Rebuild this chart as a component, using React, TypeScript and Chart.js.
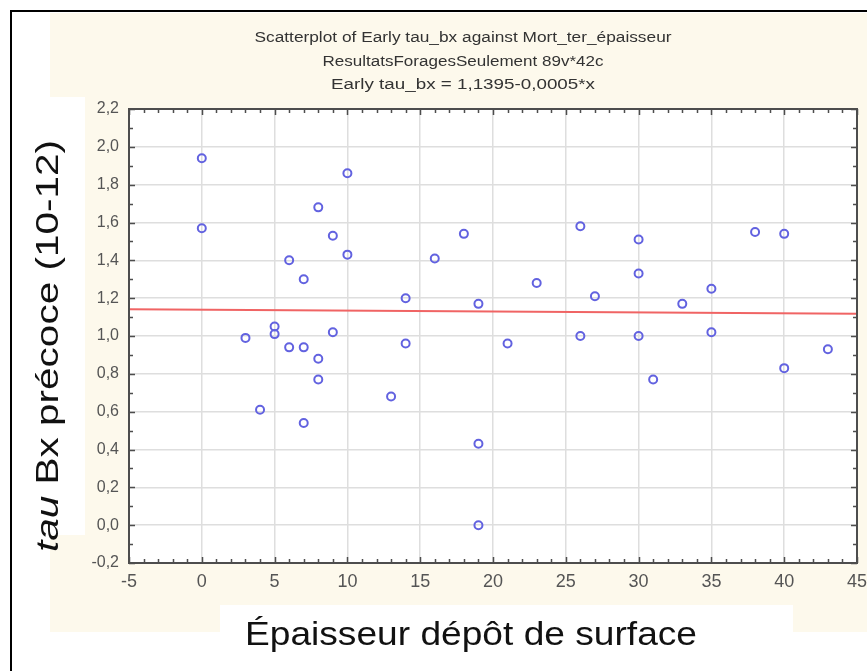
import React, { useEffect, useRef } from 'react';
import { Chart, registerables } from 'chart.js';

Chart.register(...registerables);

// ---- data ----
const titleLines = [
  'Scatterplot of Early tau_bx against Mort_ter_épaisseur',
  'ResultatsForagesSeulement 89v*42c',
  'Early tau_bx = 1,1395-0,0005*x',
];
const xAxisTitle = 'Épaisseur dépôt de surface';
const yAxisTitleItalic = 'tau';
const yAxisTitleRest = ' Bx précoce (10-12)';

const pointX = [0, 0, 3, 4, 5, 5, 6, 6, 7, 7, 7, 8, 8, 8, 9, 9, 10, 10, 13, 14, 14, 16, 18, 19, 19, 19, 21, 23, 26, 26, 27, 30, 30, 30, 31, 33, 35, 35, 38, 40, 40, 43];
const pointY = [1.94, 1.57, 0.99, 0.61, 1.05, 1.01, 1.40, 0.94, 1.30, 0.94, 0.54, 1.68, 0.88, 0.77, 1.53, 1.02, 1.86, 1.43, 0.68, 1.20, 0.96, 1.41, 1.54, 1.17, 0.43, 0.00, 0.96, 1.28, 1.58, 1.00, 1.21, 1.51, 1.33, 1.00, 0.77, 1.17, 1.25, 1.02, 1.55, 1.54, 0.83, 0.93];

const fitX = [-5, 45];
const fitY = [1.142, 1.117];

const xTicks = [-5, 0, 5, 10, 15, 20, 25, 30, 35, 40, 45];
const yTicks = [-0.2, 0, 0.2, 0.4, 0.6, 0.8, 1.0, 1.2, 1.4, 1.6, 1.8, 2.0, 2.2];

const BEIGE = '#fdf9ec';
const AXIS = '#4d4d4d';

function fitText(ctx: CanvasRenderingContext2D, text: string, font: string, cx: number, baseY: number, width: number) {
  ctx.save();
  ctx.font = font;
  const w = ctx.measureText(text).width;
  ctx.translate(cx, baseY);
  ctx.scale(width / w, 1);
  ctx.textAlign = 'center';
  ctx.textBaseline = 'alphabetic';
  ctx.fillText(text, 0, 0);
  ctx.restore();
}

const decorPlugin = {
  id: 'decor',
  beforeDraw(chart: any) {
    const ctx: CanvasRenderingContext2D = chart.ctx;
    const a = chart.chartArea;
    const W = chart.width;
    const H = chart.height;
    ctx.save();
    ctx.fillStyle = '#ffffff';
    ctx.fillRect(0, 0, W, H);
    ctx.fillStyle = BEIGE;
    ctx.fillRect(50, 13, W - 50, 632 - 13);
    ctx.fillStyle = '#ffffff';
    ctx.fillRect(12, 97, 85 - 12, 535 - 97);
    ctx.fillRect(220, 605, 793 - 220, H - 605);
    ctx.fillRect(a.left, a.top, a.right - a.left, a.bottom - a.top);
    ctx.fillStyle = '#000000';
    ctx.fillRect(10, 10, W - 10, 2);
    ctx.fillRect(10, 10, 2, H - 10);
    ctx.restore();
  },
  afterDraw(chart: any) {
    const ctx: CanvasRenderingContext2D = chart.ctx;
    const a = chart.chartArea;
    const xs = chart.scales.x;
    const ys = chart.scales.y;
    ctx.save();
    // minor / major ticks pointing inward on all four sides
    ctx.strokeStyle = AXIS;
    ctx.lineWidth = 1.5;
    ctx.beginPath();
    for (let v = xTicks[0]; v <= xTicks[xTicks.length - 1]; v += 1) {
      const px = Math.round(xs.getPixelForValue(v)) + 0.5;
      const len = v % 5 === 0 ? 6 : 4;
      ctx.moveTo(px, a.bottom);
      ctx.lineTo(px, a.bottom - len);
      ctx.moveTo(px, a.top);
      ctx.lineTo(px, a.top + len);
    }
    for (let i = 0; i <= 24; i++) {
      const v = yTicks[0] + i * 0.1;
      const py = Math.round(ys.getPixelForValue(v)) + 0.5;
      const len = i % 2 === 0 ? 6 : 4;
      ctx.moveTo(a.left, py);
      ctx.lineTo(a.left + len, py);
      ctx.moveTo(a.right, py);
      ctx.lineTo(a.right - len, py);
    }
    ctx.stroke();
    // plot frame
    ctx.lineWidth = 2;
    ctx.strokeRect(a.left, a.top, a.right - a.left, a.bottom - a.top);

    // titles
    ctx.fillStyle = '#333333';
    const tFont = '14px "Liberation Sans Narrow", "Liberation Sans", Arial, sans-serif';
    fitText(ctx, titleLines[0], tFont, 463, 42, 417);
    fitText(ctx, titleLines[1], tFont, 463, 66, 281);
    fitText(ctx, titleLines[2], tFont, 463, 89, 264);

    // x axis title
    ctx.fillStyle = '#111111';
    fitText(ctx, xAxisTitle, '33px "Liberation Sans", Arial, sans-serif', 471, 645, 452);

    // y axis title (rotated, "tau" italic)
    const fItal = 'italic 31px "Liberation Sans", Arial, sans-serif';
    const fNorm = '31px "Liberation Sans", Arial, sans-serif';
    ctx.font = fItal;
    const w1 = ctx.measureText(yAxisTitleItalic).width;
    ctx.font = fNorm;
    const w2 = ctx.measureText(yAxisTitleRest).width;
    const total = w1 + w2;
    const target = 412;
    ctx.save();
    ctx.translate(58, 346);
    ctx.rotate(-Math.PI / 2);
    ctx.scale(target / total, 1);
    ctx.textAlign = 'left';
    ctx.textBaseline = 'alphabetic';
    ctx.font = fItal;
    ctx.fillText(yAxisTitleItalic, -total / 2, 0);
    ctx.font = fNorm;
    ctx.fillText(yAxisTitleRest, -total / 2 + w1, 0);
    ctx.restore();

    ctx.restore();
  },
};

export default function App() {
  const ref = useRef<HTMLCanvasElement | null>(null);

  useEffect(() => {
    if (!ref.current) return;
    const points = pointX.map((x, i) => ({ x, y: pointY[i] }));
    const fit = fitX.map((x, i) => ({ x, y: fitY[i] }));
    const chart = new Chart(ref.current, {
      type: 'scatter',
      data: {
        datasets: [
          {
            type: 'line',
            label: 'fit',
            data: fit,
            borderColor: '#f06464',
            borderWidth: 2,
            pointRadius: 0,
            fill: false,
            order: 2,
          } as any,
          {
            label: 'Early tau_bx',
            data: points,
            pointStyle: 'circle',
            pointRadius: 4,
            pointBorderWidth: 2,
            pointBorderColor: '#6262e0',
            pointBackgroundColor: 'rgba(0,0,0,0)',
            borderColor: '#6262e0',
            backgroundColor: 'rgba(0,0,0,0)',
            order: 1,
          } as any,
        ],
      },
      options: {
        animation: false,
        responsive: false,
        devicePixelRatio: 1,
        layout: { padding: { left: 0, right: 10, top: 109, bottom: 0 } },
        plugins: {
          legend: { display: false },
          title: { display: false },
          tooltip: { enabled: false },
        },
        scales: {
          x: {
            type: 'linear',
            min: xTicks[0],
            max: xTicks[xTicks.length - 1],
            afterBuildTicks: (s: any) => {
              s.ticks = xTicks.map((v) => ({ value: v }));
            },
            afterFit: (s: any) => {
              s.height = 108;
              s.paddingLeft = 0;
              s.paddingRight = 0;
            },
            grid: { color: '#dedede', lineWidth: 1.5, drawTicks: false },
            border: { display: false },
            ticks: {
              padding: 8,
              color: '#555555',
              font: { family: '"Liberation Sans Narrow", "Liberation Sans", Arial, sans-serif', size: 18 },
              maxRotation: 0,
              autoSkip: false,
              callback: (v: any) => String(v),
            },
          },
          y: {
            type: 'linear',
            min: yTicks[0],
            max: yTicks[yTicks.length - 1],
            afterBuildTicks: (s: any) => {
              s.ticks = yTicks.map((v) => ({ value: v }));
            },
            afterFit: (s: any) => {
              s.width = 129;
              s.paddingTop = 0;
              s.paddingBottom = 0;
            },
            grid: { color: '#dedede', lineWidth: 1.5, drawTicks: false },
            border: { display: false },
            ticks: {
              padding: 10,
              color: '#555555',
              font: { family: '"Liberation Sans", Arial, sans-serif', size: 16 },
              autoSkip: false,
              callback: (v: any) => {
                const n = Math.abs(Number(v)) < 1e-9 ? 0 : Number(v);
                return n.toFixed(1).replace('.', ',');
              },
            },
          },
        },
      },
      plugins: [decorPlugin],
    });
    return () => chart.destroy();
  }, []);

  return (
    <div style={{ position: 'fixed', left: 0, top: 0, width: 867, height: 671, background: '#ffffff' }}>
      <canvas ref={ref} width={867} height={671} style={{ display: 'block', width: 867, height: 671 }} />
    </div>
  );
}
